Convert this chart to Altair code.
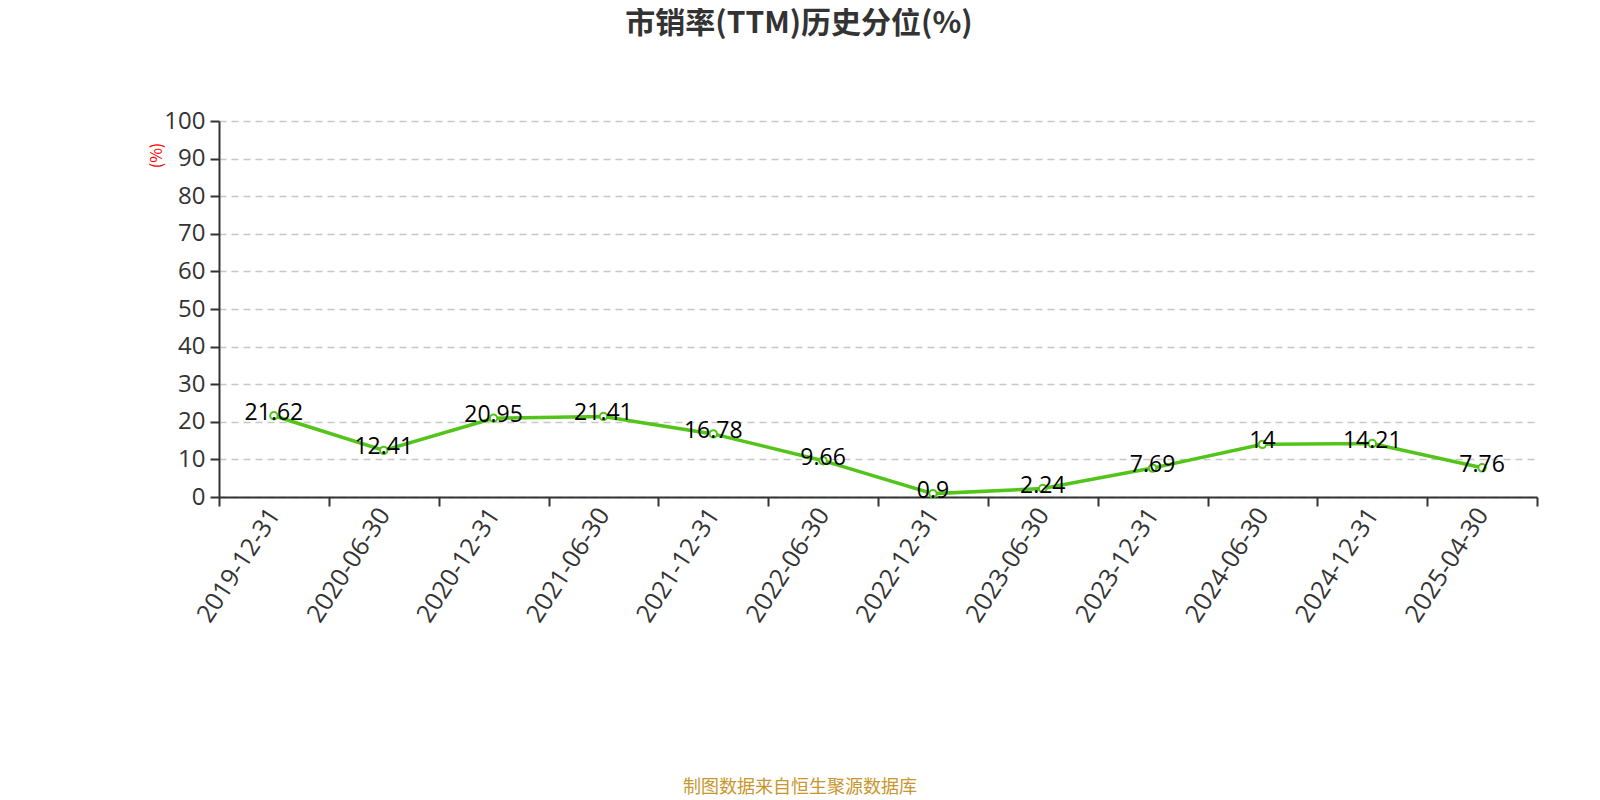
import altair as alt
import pandas as pd

dates = ["2019-12-31", "2020-06-30", "2020-12-31", "2021-06-30", "2021-12-31", "2022-06-30",
         "2022-12-31", "2023-06-30", "2023-12-31", "2024-06-30", "2024-12-31", "2025-04-30"]
values = [21.62, 12.41, 20.95, 21.41, 16.78, 9.66, 0.9, 2.24, 7.69, 14, 14.21, 7.76]
labels = ["21.62", "12.41", "20.95", "21.41", "16.78", "9.66", "0.9", "2.24", "7.69", "14", "14.21", "7.76"]
y_ticks = [0, 10, 20, 30, 40, 50, 60, 70, 80, 90, 100]

df = pd.DataFrame({"date": dates, "value": values, "label": labels, "idx": list(range(len(dates)))})

W, H = 1318, 376
FONT = "Noto Sans CJK SC"
NUM = "Open Sans"
GREEN = "#52c41a"

label_expr = "datum.value < 12 ? " + str(dates) + "[datum.value] : ''"

x_enc = alt.X(
    "pos:Q",
    scale=alt.Scale(domain=[0, 12], nice=False, zero=False),
    axis=alt.Axis(
        values=list(range(13)), labelExpr=label_expr, title=None, grid=False,
        labelAngle=-57, labelAlign="right", labelBaseline="middle", labelOffset=W / 24,
        labelFontSize=25, labelColor="#333", labelFont=NUM, labelPadding=4,
        tickSize=9, tickColor="#333", tickWidth=2, domainColor="#333", domainWidth=2,
        labelOverlap=False, labelFlush=False,
    ),
)
y_enc = alt.Y(
    "value:Q",
    scale=alt.Scale(domain=[0, 100], nice=False),
    axis=alt.Axis(
        values=y_ticks, title="(%)", titleColor="red", titleFontSize=16, titleFont=FONT,
        titleFontWeight="normal", titleAngle=-90, titleX=-63, titleY=34,
        titleAlign="center", titleBaseline="middle",
        labelFontSize=24, labelColor="#333", labelFont=NUM, labelPadding=5,
        labelOverlap=False, labelFlush=False,
        tickSize=9, tickColor="#333", tickWidth=2, domainColor="#333", domainWidth=2,
        grid=True, gridColor="#c8c8c8", gridDash=[7, 5], gridWidth=1.5,
    ),
)

base = alt.Chart(df).transform_calculate(pos="datum.idx + 0.5")

line = base.mark_line(color=GREEN, strokeWidth=3.5).encode(x=x_enc, y=y_enc)
pts = base.mark_point(shape="circle", filled=True, fill="white", stroke=GREEN,
                      strokeWidth=2, size=55, opacity=1).encode(x=x_enc, y=y_enc)
txt = base.mark_text(fontSize=23, font=NUM, color="black", baseline="middle",
                     align="center", dy=-3).encode(x=x_enc, y=y_enc, text="label:N")

title = alt.Chart(pd.DataFrame({"t": ["市销率(TTM)历史分位(%)"]})).mark_text(
    fontSize=30, fontWeight="bold", font=FONT, color="#333", align="center", baseline="middle"
).encode(x=alt.value(580), y=alt.value(-97), text="t:N")

source = alt.Chart(pd.DataFrame({"t": ["制图数据来自恒生聚源数据库"]})).mark_text(
    fontSize=18, font=FONT, color="#c8962e", align="center", baseline="middle"
).encode(x=alt.value(581), y=alt.value(667), text="t:N")

chart = alt.layer(line, pts, txt, title, source).properties(
    width=W, height=H,
    autosize=alt.AutoSizeParams(type="none"),
    padding={"left": 211, "top": 113, "right": 50, "bottom": 302},
).configure_view(stroke=None)

chart.save("out.html", embed_options={"renderer": "svg", "actions": False})
